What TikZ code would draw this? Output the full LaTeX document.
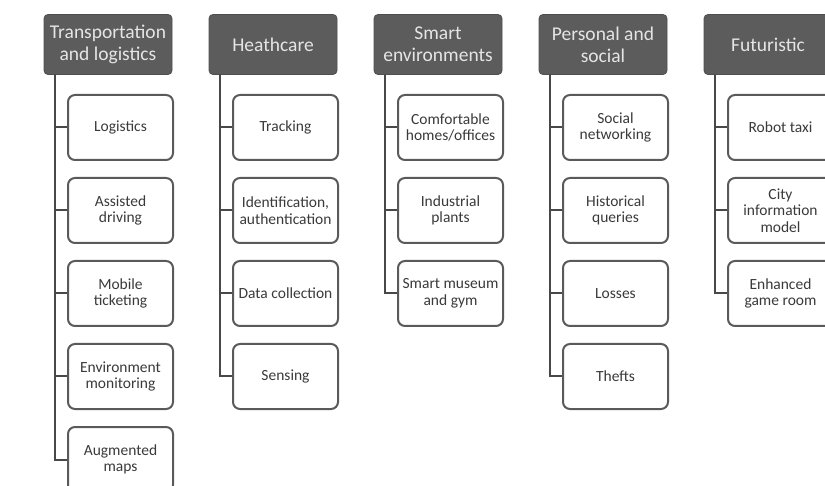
\documentclass[tikz,border=0pt]{standalone}
\usepackage{fontspec}
\setmainfont{Carlito}
\usepackage{tikz}
\usetikzlibrary{positioning}
\definecolor{headgray}{RGB}{92,92,92}
\definecolor{textgray}{RGB}{58,58,58}
\definecolor{linegray}{RGB}{72,72,72}

\begin{document}
\begin{tikzpicture}[
            x = 1pt, y = 1pt,
            node distance = 83pt, % distance between leaves
            line width = 2pt
        ]

        \tikzstyle{head}=[
            draw = headgray!85!black,
            line width = 0.8pt,
            fill = headgray,
            text = white!90!black,
            rounded corners = 4pt,
            minimum width = 128pt,
            minimum height = 60pt,
            align = center,
            font = \fontsize{19.5}{22}\selectfont
        ]
        \tikzstyle{leaf}=[
            draw = linegray!90,
            fill = white,
            text = textgray,
            rounded corners = 7pt,
            minimum width = 105pt,
            minimum height = 65pt,
            inner sep = 1pt,
            align = center,
            font = \fontsize{15.5}{16.5}\selectfont
        ]
        \tikzstyle{branch}=[draw = linegray]

        \useasboundingbox (0,0) rectangle (825,-486);
        \clip (0,0) rectangle (825,-486);

        % transportation and logistics
        \node[head] (T) at (108,-44.5) {Transportation\\and logistics};
        \node[leaf] (T1) [below of = T, xshift = 12.5pt] {Logistics};
        \node[leaf] (T2) [below of = T1] {Assisted\\driving};
        \node[leaf] (T3) [below of = T2] {Mobile\\ticketing};
        \node[leaf] (T4) [below of = T3] {Environment\\monitoring};
        \node[leaf] (T5) [below of = T4] {Augmented\\maps};
        \coordinate (Tt) at ([xshift = 11pt]T.south west);
        \foreach \i in {1,...,5} \draw[branch] (Tt) |- (T\i.west);

        % healthcare
        \node[head] (H) at (273,-44.5) {Heathcare};
        \node[leaf] (H1) [below of = H, xshift = 12.5pt] {Tracking};
        \node[leaf] (H2) [below of = H1] {Identification,\\authentication};
        \node[leaf] (H3) [below of = H2] {Data collection};
        \node[leaf] (H4) [below of = H3] {Sensing};
        \coordinate (Ht) at ([xshift = 11pt]H.south west);
        \foreach \i in {1,...,4} \draw[branch] (Ht) |- (H\i.west);

        % smart environments
        \node[head] (S) at (438,-44.5) {Smart\\environments};
        \node[leaf] (S1) [below of = S, xshift = 12.5pt] {Comfortable\\homes/offices};
        \node[leaf] (S2) [below of = S1] {Industrial\\plants};
        \node[leaf] (S3) [below of = S2] {Smart museum\\and gym};
        \coordinate (St) at ([xshift = 11pt]S.south west);
        \foreach \i in {1,...,3} \draw[branch] (St) |- (S\i.west);

        % personal and social
        \node[head] (P) at (603,-44.5) {Personal and\\social};
        \node[leaf] (P1) [below of = P, xshift = 12.5pt] {Social\\networking};
        \node[leaf] (P2) [below of = P1] {Historical\\queries};
        \node[leaf] (P3) [below of = P2] {Losses};
        \node[leaf] (P4) [below of = P3] {Thefts};
        \coordinate (Pt) at ([xshift = 11pt]P.south west);
        \foreach \i in {1,...,4} \draw[branch] (Pt) |- (P\i.west);

        % futuristic
        \node[head] (F) at (768,-44.5) {Futuristic};
        \node[leaf] (F1) [below of = F, xshift = 12.5pt] {Robot taxi};
        \node[leaf] (F2) [below of = F1] {City\\information\\model};
        \node[leaf] (F3) [below of = F2] {Enhanced\\game room};
        \coordinate (Ft) at ([xshift = 11pt]F.south west);
        \foreach \i in {1,...,3} \draw[branch] (Ft) |- (F\i.west);

\end{tikzpicture}
\end{document}
